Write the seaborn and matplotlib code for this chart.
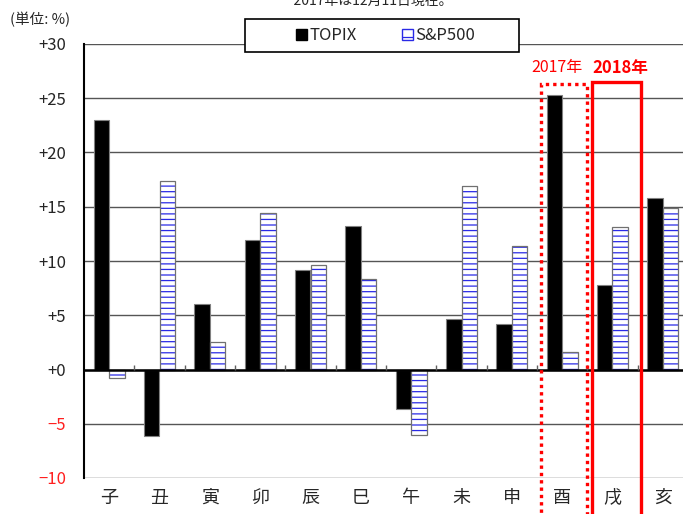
import numpy as np
import pandas as pd
import matplotlib
matplotlib.use("Agg")
import matplotlib.pyplot as plt
from matplotlib.patches import Rectangle, Patch
import seaborn as sns

zodiac = ["子", "丑", "寅", "卯", "辰", "巳", "午", "未", "申", "酉", "戌", "亥"]
topix = [23.0, -6.1, 6.0, 11.9, 9.2, 13.2, -3.6, 4.7, 4.2, 25.3, 7.8, 15.8]
sp500 = [-0.8, 17.4, 2.5, 14.4, 9.6, 8.3, -6.0, 16.9, 11.4, 1.6, 13.1, 14.9]
series = ["TOPIX", "S&P500"]
y_ticks = [30, 25, 20, 15, 10, 5, 0, -5, -10]

sns.set_style("white")
plt.rcParams["font.family"] = ["Noto Sans CJK JP", "DejaVu Sans"]
plt.rcParams["hatch.linewidth"] = 0.9

df = pd.DataFrame({
    "sign": zodiac * 2,
    "series": [series[0]] * len(zodiac) + [series[1]] * len(zodiac),
    "value": topix + sp500,
})

fig = plt.figure(figsize=(6.83, 5.14), dpi=100)
ax = fig.add_axes([84 / 683, 36 / 514, 604 / 683, 434 / 514])

sns.barplot(data=df, x="sign", y="value", hue="series", order=zodiac,
            hue_order=series, palette=["black", "white"], width=0.62, gap=0,
            saturation=1, edgecolor="#808080", linewidth=0.8, legend=False,
            ax=ax, zorder=2)

blue = "#2a2ae6"
# S&P500 bars: blue horizontal hatch, grey outline drawn on top
for bar in ax.containers[1]:
    bar.set_hatch("---")
    bar.set_edgecolor(blue)
    bar.set_linewidth(0)
    ax.add_patch(Rectangle(bar.get_xy(), bar.get_width(), bar.get_height(),
                           fill=False, edgecolor="#707070", lw=0.9, zorder=2.5))

ax.set_xlim(-0.5, len(zodiac) - 0.5)
ax.set_ylim(-10, 30)
ax.set_yticks(y_ticks)
ax.set_yticklabels([f"+{v}" if v >= 0 else f"\u2212{abs(v)}" for v in y_ticks])
for lab, v in zip(ax.get_yticklabels(), y_ticks):
    if v < 0:
        lab.set_color("#ff2020")
ax.yaxis.grid(True, color="#555555", lw=1)
ax.set_axisbelow(True)
ax.tick_params(axis="y", length=0, pad=13, labelsize=12)
ax.tick_params(axis="x", length=0, pad=8, labelsize=13)
ax.set_xlabel("")
ax.set_ylabel("")

for side in ["top", "right", "bottom"]:
    ax.spines[side].set_visible(False)
ax.spines["left"].set_color("black")
ax.spines["left"].set_linewidth(1.5)

# zero line with small ticks between the signs
ax.axhline(0, color="black", lw=1.8, zorder=3)
ax.vlines(np.arange(len(zodiac) - 1) + 0.5, 0, 0.45, color="#606060", lw=1, zorder=3)

# highlight boxes for 2017 (dotted) and 2018 (solid)
ax.add_patch(Rectangle((8.58, -14), 0.91, 26.3 + 14, fill=False, edgecolor="red",
                       lw=2.4, linestyle=(0, (1, 1.2)), clip_on=False, zorder=4))
ax.add_patch(Rectangle((9.59, -14), 0.98, 26.5 + 14, fill=False, edgecolor="red",
                       lw=2.4, clip_on=False, zorder=4))
ax.text(8.9, 27.8, "2017年", color="red", fontsize=11.5, ha="center", va="center")
ax.text(10.16, 27.8, "2018年", color="red", fontsize=12, fontweight="bold",
        ha="center", va="center")

# legend: wide white box drawn separately, entries centred inside it
fig.patches.append(Rectangle((245 / 683, 1 - 52 / 514), 274 / 683, 33 / 514,
                             transform=fig.transFigure, facecolor="white",
                             edgecolor="black", lw=1.2, zorder=4))
handles = [Patch(facecolor="black", edgecolor="black"),
           Patch(facecolor="white", edgecolor=blue, hatch="--")]
leg = fig.legend(handles, series, loc="center",
                 bbox_to_anchor=(385.5 / 683, 1 - 35.5 / 514), ncol=2,
                 frameon=False, handlelength=0.65, handleheight=0.65,
                 handletextpad=0.15, columnspacing=2.7, fontsize=12,
                 borderpad=0, borderaxespad=0)
leg.set_zorder(5)

fig.text(10 / 683, 1 - 20 / 514, "(単位: %)", fontsize=10.5, va="center")
fig.text(370 / 683, 1 - 1 / 514, "*2017年は12月11日現在。", fontsize=10,
         ha="center", va="center")

fig.savefig("out.png", dpi=100)
